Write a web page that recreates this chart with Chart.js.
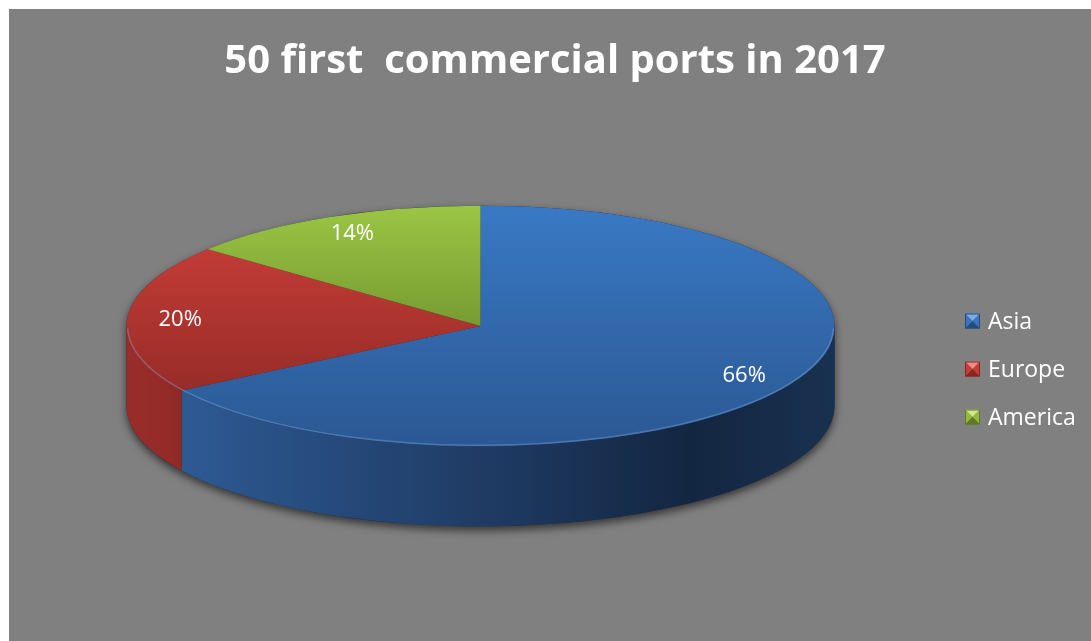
<!DOCTYPE html>
<html>
<head>
<meta charset="utf-8">
<title>50 first commercial ports in 2017</title>
<script src="https://cdn.jsdelivr.net/npm/chart.js@4.4.0/dist/chart.umd.min.js"></script>
<style>
  html, body { margin: 0; padding: 0; background: #fff; }
  #wrap { position: absolute; left: 9px; top: 9px; width: 1082px; height: 632px; background: #808080; }
</style>
</head>
<body>
<div id="wrap"><canvas id="myChart" width="1082" height="632"></canvas></div>
<script>
const regions = ['Asia', 'Europe', 'America'];
const shares = [66, 20, 14];

// top face gradient (light at the back, darker at the front)
const topLight = ['#3979c4', '#d0403b', '#9bc644'];
const topDark = ['#2b5893', '#862622', '#52701f'];
// side walls, shaded left to right
const sideStops = [
  [[0, '#305f9c'], [0.45, '#213f6a'], [0.8, '#132641'], [1, '#193150']],
  [[0, '#9a2d2a'], [0.12, '#8b2825'], [1, '#5a1a18']],
  [[0, '#6f9030'], [1, '#3d501b']]
];
// legend boxes: light, base, dark
const boxColors = [
  ['#7aaee8', '#3a74bd', '#244a7e'],
  ['#f08a86', '#c63c37', '#8a2522'],
  ['#cde88a', '#93b93e', '#5e7a22']
];

const font = "'Open Sans', sans-serif";

const pie3d = {
  id: 'pie3d',
  beforeDatasetsDraw(chart, args, opts) {
    const meta = chart.getDatasetMeta(0);
    if (!meta.data.length) return;
    const ctx = chart.ctx;
    const {x: cx, y: cy, outerRadius: r} = meta.data[0].getProps(['x', 'y', 'outerRadius'], true);
    const rx = opts.radiusX, ry = rx * opts.tilt, d = opts.depth;

    // drop shadow under the whole disc
    ctx.save();
    ctx.shadowColor = 'rgba(0,0,0,0.6)';
    ctx.shadowBlur = 8;
    ctx.shadowOffsetY = 4;
    ctx.beginPath();
    ctx.ellipse(cx, cy, rx, ry, 0, Math.PI, 0);
    ctx.lineTo(cx + rx, cy + d);
    ctx.ellipse(cx, cy + d, rx, ry, 0, 0, Math.PI);
    ctx.closePath();
    ctx.fillStyle = '#1c2a3c';
    ctx.fill();
    ctx.restore();

    // front walls, only the part of each slice facing the viewer
    meta.data.forEach((arc, i) => {
      const {startAngle, endAngle} = arc.getProps(['startAngle', 'endAngle'], true);
      [-2 * Math.PI, 0, 2 * Math.PI].forEach(k => {
        const a0 = Math.max(startAngle, k), a1 = Math.min(endAngle, k + Math.PI);
        if (a1 <= a0) return;
        const g = ctx.createLinearGradient(cx - rx, 0, cx + rx, 0);
        sideStops[i].forEach(s => g.addColorStop(s[0], s[1]));
        ctx.beginPath();
        ctx.ellipse(cx, cy, rx, ry, 0, a0, a1);
        ctx.ellipse(cx, cy + d, rx, ry, 0, a1, a0, true);
        ctx.closePath();
        ctx.fillStyle = g;
        ctx.fill();
      });
    });

    // squash the pie into the tilted top face
    ctx.save();
    ctx.translate(cx, cy);
    ctx.scale(rx / r, ry / r);
    ctx.translate(-cx, -cy);
  },
  afterDatasetsDraw(chart, args, opts) {
    const meta = chart.getDatasetMeta(0);
    if (!meta.data.length) return;
    const ctx = chart.ctx;
    ctx.restore();
    const {x: cx, y: cy} = meta.data[0].getProps(['x', 'y'], true);
    const rx = opts.radiusX, ry = rx * opts.tilt;

    // soft highlight on the front rim
    ctx.save();
    ctx.beginPath();
    ctx.ellipse(cx, cy, rx - 1, ry - 1, 0, 0.02, Math.PI - 0.02);
    ctx.strokeStyle = 'rgba(150,190,240,0.3)';
    ctx.lineWidth = 1.5;
    ctx.stroke();
    ctx.restore();

    // percentage labels
    const values = chart.data.datasets[0].data;
    const total = values.reduce((a, b) => a + b, 0);
    ctx.save();
    ctx.font = '22px ' + font;
    ctx.fillStyle = '#ffffff';
    ctx.textAlign = 'center';
    ctx.textBaseline = 'middle';
    meta.data.forEach((arc, i) => {
      const {startAngle, endAngle} = arc.getProps(['startAngle', 'endAngle'], true);
      const mid = (startAngle + endAngle) / 2;
      const x = cx + rx * opts.labelAt * Math.cos(mid);
      const y = cy + ry * opts.labelAt * Math.sin(mid);
      ctx.fillText(Math.round(values[i] / total * 100) + '%', x, y);
    });
    ctx.restore();
  }
};

// legend as a layout box on the right, so the title stays centred on the full width
const sideLegend = {
  id: 'sideLegend',
  beforeInit(chart) {
    const box = {
      position: 'right',
      weight: 10,
      fullSize: false,
      options: {},
      isHorizontal() { return false; },
      update(maxWidth, maxHeight) {
        this.width = chart.options.plugins.sideLegend.width;
        this.height = maxHeight;
      },
      draw() {
        const opts = chart.options.plugins.sideLegend;
        const ctx = chart.ctx;
        const s = opts.box;
        const midY = (this.top + this.bottom) / 2;
        ctx.save();
        ctx.font = '23px ' + font;
        ctx.textBaseline = 'middle';
        chart.data.labels.forEach((label, i) => {
          const bx = this.left + opts.indent;
          const y = midY + opts.firstRow + i * opts.gap;
          const by = y - s / 2, c = boxColors[i];
          const mx = bx + s / 2, my = by + s / 2;
          const tri = (pts, col) => {
            ctx.beginPath();
            ctx.moveTo(pts[0], pts[1]);
            ctx.lineTo(pts[2], pts[3]);
            ctx.lineTo(mx, my);
            ctx.closePath();
            ctx.fillStyle = col;
            ctx.fill();
          };
          tri([bx, by, bx + s, by], c[0]);
          tri([bx, by, bx, by + s], c[1]);
          tri([bx + s, by, bx + s, by + s], c[1]);
          tri([bx, by + s, bx + s, by + s], c[2]);
          ctx.strokeStyle = c[2];
          ctx.lineWidth = 1;
          ctx.strokeRect(bx + 0.5, by + 0.5, s - 1, s - 1);
          ctx.fillStyle = '#ffffff';
          ctx.fillText(label, bx + s + 8, y + 1);
        });
        ctx.restore();
      }
    };
    Chart.layouts.addBox(chart, box);
  }
};

const ctx = document.getElementById('myChart');
const myChart = new Chart(ctx, {
  type: 'pie',
  data: {
    labels: regions,
    datasets: [{
      data: shares,
      backgroundColor(c) {
        const area = c.chart.chartArea;
        if (!area) return topLight[c.dataIndex];
        const g = c.chart.ctx.createLinearGradient(0, area.top, 0, area.bottom);
        g.addColorStop(0, topLight[c.dataIndex]);
        g.addColorStop(1, topDark[c.dataIndex]);
        return g;
      },
      borderWidth: 0,
      hoverOffset: 0,
      clip: false
    }]
  },
  plugins: [pie3d, sideLegend],
  options: {
    responsive: false,
    animation: false,
    events: [],
    layout: {
      padding: { left: 10, right: 0, top: 0, bottom: 85 }
    },
    plugins: {
      legend: { display: false },
      tooltip: { enabled: false },
      title: {
        display: true,
        text: '50 first  commercial ports in 2017',
        color: '#ffffff',
        font: { family: font, size: 40, weight: 'bold' },
        padding: { top: 29, bottom: 10 }
      },
      pie3d: { radiusX: 354, tilt: 0.34, depth: 80, labelAt: 0.85 },
      sideLegend: { width: 149, indent: 23, firstRow: -5, gap: 48, box: 15 }
    }
  }
});
</script>
</body>
</html>
